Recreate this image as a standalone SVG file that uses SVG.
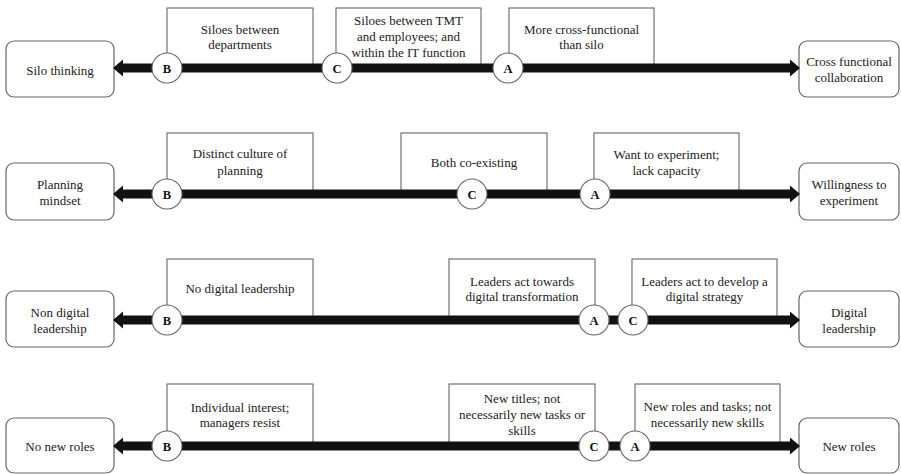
<svg xmlns="http://www.w3.org/2000/svg" width="901" height="474" viewBox="0 0 901 474">
<style>
text{font-family:"Liberation Serif","Times New Roman",serif;font-size:13px;fill:#222;text-anchor:middle}
.end{fill:#fff;stroke:#666;stroke-width:1.2}
.lbl{fill:#fff;stroke:#666;stroke-width:1.1}
.dot{fill:#fff;stroke:#666;stroke-width:1.1}
.k{font-weight:bold;font-size:12.5px;fill:#111}
.bar{fill:#111}
</style>
<defs>
<path id="arrow" d="M113,0 L123,-8.5 L123,-4.5 L790,-4.5 L790,-8.5 L800,0 L790,8.5 L790,4.5 L123,4.5 L123,8.5 Z"/>
</defs>
<rect width="901" height="474" fill="#fff"/>

<!-- Row 1 -->
<g id="silo-thinking"><rect class="end" x="6" y="41" width="108" height="56" rx="8"/><text x="60" y="75">Silo thinking</text></g>
<g id="cross-functional"><rect class="end" x="799" y="41" width="100" height="56" rx="8"/><text x="849" y="66">Cross functional</text><text x="849" y="82">collaboration</text></g>
<g id="r1-b-label"><rect class="lbl" x="167" y="8" width="146" height="60"/><text x="240" y="34">Siloes between</text><text x="240" y="49">departments</text></g>
<g id="r1-c-label"><rect class="lbl" x="336" y="8" width="145" height="60"/><text x="408.5" y="25">Siloes between TMT</text><text x="408.5" y="41">and employees; and</text><text x="408.5" y="57">within the IT function</text></g>
<g id="r1-a-label"><rect class="lbl" x="509" y="8" width="145" height="60"/><text x="581.5" y="34">More cross-functional</text><text x="581.5" y="49">than silo</text></g>

<!-- Row 2 -->
<g id="planning-mindset"><rect class="end" x="6" y="163" width="108" height="57" rx="8"/><text x="60" y="189">Planning</text><text x="60" y="205">mindset</text></g>
<g id="willingness"><rect class="end" x="799" y="163" width="100" height="57" rx="8"/><text x="849" y="189">Willingness to</text><text x="849" y="205">experiment</text></g>
<g id="r2-b-label"><rect class="lbl" x="167" y="133" width="146" height="61"/><text x="240" y="158">Distinct culture of</text><text x="240" y="175">planning</text></g>
<g id="r2-c-label"><rect class="lbl" x="401" y="133" width="146" height="61"/><text x="474" y="167">Both co-existing</text></g>
<g id="r2-a-label"><rect class="lbl" x="594" y="133" width="145" height="61"/><text x="666.5" y="159">Want to experiment;</text><text x="666.5" y="175">lack capacity</text></g>

<!-- Row 3 -->
<g id="non-digital"><rect class="end" x="6" y="291" width="108" height="56" rx="8"/><text x="60" y="317">Non digital</text><text x="60" y="333">leadership</text></g>
<g id="digital"><rect class="end" x="799" y="291" width="100" height="56" rx="8"/><text x="849" y="317">Digital</text><text x="849" y="333">leadership</text></g>
<g id="r3-b-label"><rect class="lbl" x="167" y="259" width="146" height="61"/><text x="240" y="293">No digital  leadership</text></g>
<g id="r3-a-label"><rect class="lbl" x="449" y="259" width="146" height="61"/><text x="522" y="286">Leaders act towards</text><text x="522" y="301">digital  transformation</text></g>
<g id="r3-c-label"><rect class="lbl" x="632" y="259" width="145" height="61"/><text x="704.5" y="286">Leaders act to develop a</text><text x="704.5" y="301">digital  strategy</text></g>

<!-- Row 4 -->
<g id="no-new-roles"><rect class="end" x="6" y="418" width="108" height="55" rx="8"/><text x="60" y="451">No new roles</text></g>
<g id="new-roles"><rect class="end" x="799" y="418" width="100" height="55" rx="8"/><text x="849" y="451">New roles</text></g>
<g id="r4-b-label"><rect class="lbl" x="167" y="384" width="146" height="62"/><text x="240" y="412">Individual interest;</text><text x="240" y="427">managers resist</text></g>
<g id="r4-c-label"><rect class="lbl" x="449" y="384" width="146" height="62"/><text x="522" y="403">New titles; not</text><text x="522" y="419">necessarily new tasks or</text><text x="522" y="435">skills</text></g>
<g id="r4-a-label"><rect class="lbl" x="635" y="384" width="145" height="62"/><text x="707.5" y="411">New roles and tasks; not</text><text x="707.5" y="427">necessarily new skills</text></g>

<!-- Connectors -->
<g id="connectors" class="bar">
<use href="#arrow" transform="translate(0,68)"/>
<use href="#arrow" transform="translate(0,194)"/>
<use href="#arrow" transform="translate(0,320)"/>
<use href="#arrow" transform="translate(0,446)"/>
</g>

<!-- Markers -->
<g id="r1-b"><circle class="dot" cx="167" cy="68" r="15"/><text class="k" x="167" y="72.5">B</text></g>
<g id="r1-c"><circle class="dot" cx="337" cy="68" r="15"/><text class="k" x="337" y="72.5">C</text></g>
<g id="r1-a"><circle class="dot" cx="508" cy="68" r="15"/><text class="k" x="508" y="72.5">A</text></g>
<g id="r2-b"><circle class="dot" cx="167" cy="194" r="15"/><text class="k" x="167" y="198.5">B</text></g>
<g id="r2-c"><circle class="dot" cx="472" cy="194" r="15"/><text class="k" x="472" y="198.5">C</text></g>
<g id="r2-a"><circle class="dot" cx="595" cy="194" r="15"/><text class="k" x="595" y="198.5">A</text></g>
<g id="r3-b"><circle class="dot" cx="167" cy="320" r="15"/><text class="k" x="167" y="324.5">B</text></g>
<g id="r3-a"><circle class="dot" cx="594" cy="320" r="15"/><text class="k" x="594" y="324.5">A</text></g>
<g id="r3-c"><circle class="dot" cx="633" cy="320" r="15"/><text class="k" x="633" y="324.5">C</text></g>
<g id="r4-b"><circle class="dot" cx="167" cy="446" r="15"/><text class="k" x="167" y="450.5">B</text></g>
<g id="r4-c"><circle class="dot" cx="594" cy="446" r="15"/><text class="k" x="594" y="450.5">C</text></g>
<g id="r4-a"><circle class="dot" cx="635" cy="446" r="15"/><text class="k" x="635" y="450.5">A</text></g>
</svg>
